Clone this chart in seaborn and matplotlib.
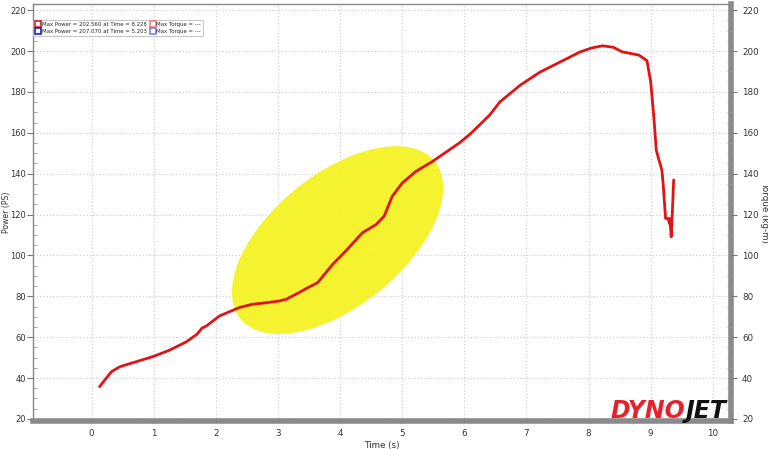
import matplotlib
matplotlib.use('Agg')
import matplotlib.pyplot as plt
import matplotlib.transforms as mtransforms
from matplotlib.patches import Ellipse
from matplotlib.lines import Line2D
from matplotlib.ticker import MultipleLocator
import pandas as pd
import seaborn as sns

# Dyno run: power vs time
time_s = [0.13, 0.2, 0.32, 0.46, 0.72, 0.99, 1.26, 1.53, 1.7, 1.78, 1.85, 2.06, 2.38,
          2.59, 2.8, 3.02, 3.13, 3.34, 3.45, 3.64, 3.88, 4.09, 4.36, 4.58, 4.71, 4.84,
          5.0, 5.22, 5.49, 5.92, 6.1, 6.41, 6.57, 6.9, 7.22, 7.54, 7.86, 8.05, 8.228,
          8.4, 8.54, 8.81, 8.94, 9.0, 9.05, 9.09, 9.14, 9.18, 9.2, 9.24, 9.28, 9.3,
          9.31, 9.33, 9.35, 9.37]
power_ps = [35.8, 38.5, 43.1, 45.6, 48.0, 50.5, 53.7, 57.8, 61.5, 64.5, 65.5, 70.4, 74.5,
            76.1, 76.8, 77.7, 78.5, 81.8, 83.7, 86.7, 95.6, 102.1, 111.1, 115.1, 119.2, 128.9,
            135.4, 141.1, 146.0, 155.0, 159.5, 168.7, 175.0, 183.3, 189.7, 194.6, 199.5, 201.5, 202.56,
            201.8, 199.6, 198.0, 195.3, 185.0, 168.0, 151.5, 146.0, 141.8, 135.3, 118.1, 118.1, 115.7,
            118.0, 109.1, 122.0, 136.9]

legend_labels = ['Max Power = 202.560 at Time = 8.228', 'Max Power = 207.070 at Time = 5.203',
                 'Max Torque = ---', 'Max Torque = ---']
legend_colors = ['#d42020', '#2020b0', '#f08080', '#8080e0']

df = pd.DataFrame({'Time (s)': time_s, 'Power (PS)': power_ps})

sns.set_style('white')
plt.rcParams['font.family'] = ['DejaVu Sans']

fig = plt.figure(figsize=(7.68, 4.49), dpi=100)
ax = fig.add_axes([0.0436, 0.0624, 0.908, 0.9287])

ax.set_xlim(-0.934, 10.29)
ax.set_ylim(19, 223)

# highlight ellipse (sized in inches, centred in data space)
ell = Ellipse((0, 0), 2.50, 1.32, angle=39, facecolor='#f5f21e', edgecolor='none', alpha=0.92,
              transform=fig.dpi_scale_trans + mtransforms.ScaledTranslation(3.96, 107.5, ax.transData),
              zorder=2)
ax.add_patch(ell)

sns.lineplot(data=df, x='Time (s)', y='Power (PS)', ax=ax, sort=False, estimator=None,
             color='#e01414', linewidth=2.0, zorder=3)

ax.set_xticks(range(0, 11))
ax.set_yticks(range(20, 221, 20))
ax.xaxis.set_minor_locator(MultipleLocator(0.2))
ax.yaxis.set_minor_locator(MultipleLocator(5))
ax.grid(True, which='major', color='#d2d2d2', linestyle=':', linewidth=0.9, zorder=1)
ax.tick_params(axis='x', which='major', direction='in', length=4, labelsize=6.3, colors='#777777',
               labelcolor='#333333', pad=6)
ax.tick_params(axis='x', which='minor', direction='in', length=2.5, colors='#999999', bottom=True)
ax.tick_params(axis='y', which='major', direction='out', length=4, labelsize=6, colors='#777777',
               labelcolor='#333333', left=True, pad=1.5)
ax.tick_params(axis='y', which='minor', direction='in', length=3, colors='#999999', left=True)
ax.set_xlabel('Time (s)', fontsize=6.3, color='#333333', labelpad=2)
ax.set_ylabel('Power (PS)', fontsize=5.6, color='#333333', va='center')
ax.yaxis.set_label_coords(-0.039, 0.5)

for side in ['left', 'top']:
    ax.spines[side].set_color('#888888')
    ax.spines[side].set_linewidth(1.0)
for side in ['bottom', 'right']:
    ax.spines[side].set_color('#8a8a8a')
    ax.spines[side].set_linewidth(4)

ax2 = ax.twinx()
ax2.set_ylim(19, 223)
ax2.set_yticks(range(20, 221, 20))
ax2.yaxis.set_minor_locator(MultipleLocator(5))
ax2.tick_params(axis='y', which='major', direction='out', length=4, labelsize=6.3, colors='#777777',
                labelcolor='#333333', right=True, pad=4)
ax2.tick_params(axis='y', which='minor', direction='in', length=3, colors='#999999', right=True)
ax2.set_ylabel('Torque (kg-m)', fontsize=6.3, color='#333333', rotation=270, va='center')
ax2.yaxis.set_label_coords(1.048, 0.5)
for s in ax2.spines.values():
    s.set_visible(False)

handles = [Line2D([], [], linestyle='none', marker='s', markersize=4.5, markerfacecolor='white',
                  markeredgecolor=c, markeredgewidth=1.2) for c in legend_colors]
leg = ax.legend(handles, legend_labels, loc='upper left', bbox_to_anchor=(0.0, 0.962), ncol=2,
                fontsize=3.9, frameon=True, fancybox=False, borderpad=0.4, handlelength=1.0,
                handletextpad=0.2, columnspacing=0.5, labelspacing=0.3, borderaxespad=0)
leg.get_frame().set_edgecolor('#aaaaaa')
leg.get_frame().set_linewidth(0.6)

# logo
ax.text(0.935, 0.008, 'DYNO', transform=ax.transAxes, ha='right', va='baseline', fontsize=17,
        fontweight='heavy', fontstyle='italic', color='#e8202a', zorder=5)
ax.text(0.935, 0.008, 'JET', transform=ax.transAxes, ha='left', va='baseline', fontsize=17,
        fontweight='heavy', fontstyle='italic', color='#111111', zorder=5)

fig.savefig('out.png', dpi=100)
